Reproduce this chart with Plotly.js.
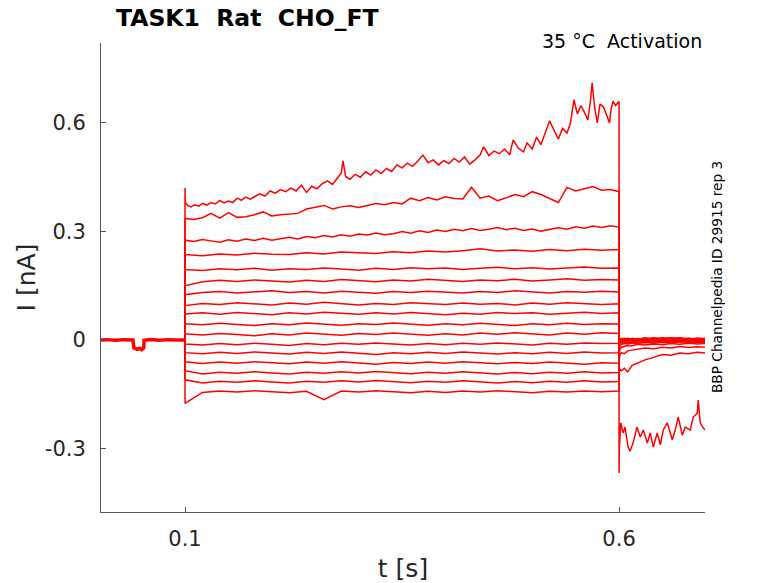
<!DOCTYPE html>
<html>
<head>
<meta charset="utf-8">
<script src="https://cdn.plot.ly/plotly-3.0.1.min.js"></script>
<style>
  body { margin: 0; background: #fff; }
  #graph { width: 778px; height: 583px; }
</style>
</head>
<body>
<div id="graph"></div>
<script>
// holding current before the voltage step (all sweeps sit on top of each other here)
var tBase = [0.0032, 0.01, 0.02, 0.03, 0.04, 0.0412, 0.045, 0.048, 0.05, 0.0525, 0.0528, 0.06, 0.07, 0.08, 0.09, 0.1];
var iBase = [0, 0.001, -0.001, 0.001, 0, -0.022, -0.026, -0.023, -0.027, -0.022, -0.001, 0.001, -0.001, 0.001, 0, 0];

// time grids used by the sweeps
var tFine = [0.10, 0.11, 0.12, 0.13, 0.14, 0.15, 0.16, 0.17, 0.18, 0.19,
             0.20, 0.21, 0.22, 0.23, 0.24, 0.25, 0.26, 0.27, 0.28, 0.29,
             0.30, 0.31, 0.32, 0.33, 0.34, 0.35, 0.36, 0.37, 0.38, 0.39,
             0.40, 0.41, 0.42, 0.43, 0.44, 0.45, 0.46, 0.47, 0.48, 0.49,
             0.50, 0.51, 0.52, 0.53, 0.54, 0.55, 0.56, 0.57, 0.58, 0.59,
             0.60];
var tCoarse = [0.10, 0.12, 0.14, 0.16, 0.18, 0.20, 0.22, 0.24, 0.26, 0.28,
               0.30, 0.32, 0.34, 0.36, 0.38, 0.40, 0.42, 0.44, 0.46, 0.48,
               0.50, 0.52, 0.54, 0.56, 0.58, 0.60];
var tTail = [0.6, 0.601, 0.603, 0.606, 0.61, 0.615, 0.622, 0.63, 0.64, 0.65, 0.66, 0.67, 0.68, 0.69, 0.699];

// sweep 1 (largest step) has its own sampling
var t1 = [0.1, 0.1003, 0.103, 0.107, 0.111, 0.116, 0.120, 0.125, 0.130, 0.135,
          0.140, 0.145, 0.150, 0.155, 0.160, 0.165, 0.170, 0.175, 0.180, 0.186,
          0.192, 0.198, 0.204, 0.210, 0.216, 0.222, 0.228, 0.234, 0.240, 0.246,
          0.252, 0.258, 0.264, 0.270, 0.276, 0.280, 0.282, 0.285, 0.290, 0.296,
          0.302, 0.308, 0.314, 0.320, 0.326, 0.332, 0.338, 0.344, 0.350, 0.356,
          0.362, 0.368, 0.374, 0.380, 0.386, 0.392, 0.398, 0.404, 0.410, 0.416,
          0.422, 0.428, 0.434, 0.440, 0.444, 0.450, 0.456, 0.462, 0.468, 0.474,
          0.478, 0.484, 0.490, 0.494, 0.500, 0.505, 0.510, 0.515, 0.520, 0.525,
          0.530, 0.535, 0.540, 0.544, 0.548, 0.552, 0.556, 0.560, 0.564, 0.567,
          0.569, 0.572, 0.575, 0.578, 0.582, 0.586, 0.589, 0.591, 0.593, 0.596,
          0.598, 0.600];
var i1 = [0.420, 0.380, 0.372, 0.368, 0.374, 0.370, 0.378, 0.373, 0.380, 0.376,
          0.386, 0.379, 0.384, 0.380, 0.392, 0.386, 0.395, 0.389, 0.396, 0.404,
          0.398, 0.412, 0.406, 0.416, 0.410, 0.420, 0.412, 0.428, 0.408, 0.425,
          0.418, 0.432, 0.440, 0.430, 0.449, 0.462, 0.495, 0.452, 0.444, 0.458,
          0.450, 0.465, 0.456, 0.470, 0.460, 0.474, 0.466, 0.484, 0.476, 0.489,
          0.480, 0.494, 0.511, 0.490, 0.498, 0.484, 0.496, 0.488, 0.502, 0.492,
          0.506, 0.486, 0.498, 0.512, 0.534, 0.510, 0.522, 0.515, 0.528, 0.512,
          0.553, 0.530, 0.520, 0.545, 0.528, 0.561, 0.540, 0.575, 0.606, 0.580,
          0.556, 0.585, 0.572, 0.600, 0.664, 0.625, 0.648, 0.630, 0.608, 0.660,
          0.711, 0.640, 0.600, 0.652, 0.644, 0.620, 0.600, 0.640, 0.660, 0.648,
          0.655, 0.660];
var t1Tail = [0.6, 0.6003, 0.6020, 0.6046, 0.6069, 0.6104, 0.6127, 0.6161, 0.6207, 0.6244,
              0.6279, 0.6325, 0.6359, 0.6394, 0.6440, 0.6475, 0.6509, 0.6555, 0.6613, 0.6647,
              0.6682, 0.6728, 0.6762, 0.6820, 0.6855, 0.6901, 0.6912, 0.6935, 0.6970, 0.6990];
var i1Tail = [-0.368, -0.300, -0.229, -0.257, -0.241, -0.296, -0.307, -0.285, -0.241, -0.268,
              -0.249, -0.285, -0.257, -0.296, -0.257, -0.290, -0.249, -0.229, -0.276, -0.249,
              -0.213, -0.263, -0.241, -0.249, -0.213, -0.202, -0.166, -0.229, -0.243, -0.249];

// sweeps 2 and 3 on tFine
var i2 = [0.336, 0.333, 0.338, 0.350, 0.337, 0.352, 0.339, 0.341, 0.346, 0.354,
          0.343, 0.346, 0.349, 0.350, 0.362, 0.366, 0.372, 0.362, 0.368, 0.371,
          0.366, 0.372, 0.377, 0.374, 0.380, 0.376, 0.392, 0.385, 0.394, 0.387,
          0.396, 0.391, 0.390, 0.422, 0.392, 0.398, 0.385, 0.393, 0.402, 0.396,
          0.410, 0.402, 0.392, 0.380, 0.422, 0.412, 0.418, 0.424, 0.414, 0.416,
          0.410];
var i3 = [0.276, 0.272, 0.278, 0.274, 0.270, 0.277, 0.273, 0.279, 0.275, 0.281,
          0.276, 0.280, 0.284, 0.279, 0.286, 0.283, 0.289, 0.285, 0.291, 0.287,
          0.293, 0.290, 0.296, 0.291, 0.294, 0.300, 0.295, 0.302, 0.297, 0.304,
          0.300, 0.306, 0.302, 0.308, 0.303, 0.306, 0.311, 0.305, 0.309, 0.303,
          0.307, 0.301, 0.305, 0.310, 0.306, 0.313, 0.309, 0.315, 0.311, 0.316,
          0.312];

// sweeps 4..17 on tCoarse
var i4  = [0.236, 0.233, 0.238, 0.235, 0.240, 0.237, 0.236, 0.241, 0.238, 0.243, 0.240, 0.239, 0.244, 0.241, 0.246, 0.243, 0.247, 0.252, 0.246, 0.249, 0.245, 0.250, 0.247, 0.251, 0.248, 0.250];
var i5  = [0.195, 0.192, 0.197, 0.194, 0.198, 0.193, 0.197, 0.195, 0.199, 0.196, 0.193, 0.198, 0.195, 0.200, 0.197, 0.199, 0.195, 0.198, 0.201, 0.197, 0.200, 0.196, 0.199, 0.202, 0.198, 0.199];
var i6  = [0.150, 0.161, 0.165, 0.162, 0.166, 0.163, 0.160, 0.165, 0.162, 0.167, 0.164, 0.161, 0.166, 0.163, 0.168, 0.165, 0.162, 0.166, 0.164, 0.168, 0.163, 0.166, 0.169, 0.165, 0.167, 0.166];
var i7  = [0.125, 0.131, 0.134, 0.130, 0.133, 0.136, 0.131, 0.134, 0.130, 0.135, 0.132, 0.129, 0.134, 0.131, 0.135, 0.132, 0.130, 0.134, 0.131, 0.136, 0.133, 0.130, 0.134, 0.132, 0.135, 0.133];
var i8  = [0.095, 0.101, 0.098, 0.103, 0.100, 0.097, 0.102, 0.099, 0.104, 0.100, 0.097, 0.101, 0.098, 0.103, 0.100, 0.098, 0.102, 0.099, 0.101, 0.097, 0.102, 0.099, 0.103, 0.100, 0.098, 0.100];
var i9  = [0.072, 0.075, 0.071, 0.076, 0.073, 0.070, 0.075, 0.072, 0.077, 0.074, 0.071, 0.075, 0.072, 0.076, 0.073, 0.070, 0.074, 0.071, 0.076, 0.073, 0.075, 0.071, 0.074, 0.077, 0.073, 0.075];
var i10 = [0.045, 0.042, 0.046, 0.043, 0.040, 0.045, 0.042, 0.047, 0.044, 0.041, 0.045, 0.043, 0.047, 0.044, 0.041, 0.045, 0.042, 0.046, 0.043, 0.040, 0.045, 0.042, 0.046, 0.043, 0.045, 0.044];
var i11 = [0.017, 0.014, 0.018, 0.015, 0.012, 0.017, 0.014, 0.019, 0.016, 0.013, 0.018, 0.015, 0.019, 0.016, 0.013, 0.017, 0.014, 0.019, 0.016, 0.020, 0.017, 0.014, 0.019, 0.016, 0.020, 0.018];
var i12 = [-0.011, -0.014, -0.010, -0.013, -0.009, -0.012, -0.015, -0.010, -0.013, -0.009, -0.012, -0.008, -0.011, -0.014, -0.010, -0.013, -0.009, -0.012, -0.008, -0.011, -0.014, -0.009, -0.012, -0.008, -0.010, -0.009];
var i13 = [-0.035, -0.038, -0.034, -0.037, -0.033, -0.036, -0.039, -0.034, -0.037, -0.033, -0.036, -0.040, -0.035, -0.038, -0.034, -0.037, -0.033, -0.036, -0.039, -0.035, -0.038, -0.034, -0.037, -0.033, -0.036, -0.035];
var i14 = [-0.060, -0.065, -0.061, -0.064, -0.060, -0.063, -0.066, -0.061, -0.064, -0.060, -0.063, -0.067, -0.062, -0.065, -0.061, -0.064, -0.060, -0.063, -0.066, -0.062, -0.065, -0.061, -0.064, -0.067, -0.063, -0.064];
var i15 = [-0.085, -0.094, -0.089, -0.092, -0.088, -0.091, -0.094, -0.089, -0.092, -0.088, -0.091, -0.087, -0.090, -0.093, -0.089, -0.092, -0.088, -0.091, -0.094, -0.090, -0.093, -0.089, -0.092, -0.088, -0.091, -0.090];
var i16 = [-0.110, -0.119, -0.114, -0.117, -0.113, -0.116, -0.119, -0.114, -0.117, -0.113, -0.116, -0.112, -0.115, -0.118, -0.114, -0.117, -0.113, -0.116, -0.119, -0.115, -0.118, -0.114, -0.117, -0.113, -0.116, -0.115];
var i17 = [-0.175, -0.145, -0.141, -0.144, -0.140, -0.143, -0.146, -0.142, -0.165, -0.141, -0.144, -0.140, -0.143, -0.146, -0.142, -0.145, -0.141, -0.144, -0.140, -0.143, -0.146, -0.142, -0.144, -0.141, -0.143, -0.141];

// tail currents after repolarisation (on tTail)
var tail2  = [-0.100, -0.080, -0.085, -0.078, -0.088, -0.070, -0.062, -0.055, -0.048, -0.040, -0.042, -0.036, -0.038, -0.034, -0.036];
var tail3  = [-0.060, -0.040, -0.035, -0.038, -0.030, -0.028, -0.025, -0.022, -0.024, -0.020, -0.022, -0.018, -0.021, -0.019, -0.020];
var tail4  = [-0.040, -0.025, -0.020, -0.018, -0.015, -0.016, -0.012, -0.014, -0.011, -0.013, -0.010, -0.012, -0.009, -0.011, -0.010];
var tail5  = [-0.030, -0.015, -0.012, -0.010, -0.011, -0.008, -0.010, -0.007, -0.009, -0.006, -0.008, -0.005, -0.007, -0.006, -0.007];
var tail6  = [-0.020, -0.010, -0.008, -0.009, -0.006, -0.008, -0.005, -0.007, -0.004, -0.006, -0.003, -0.005, -0.004, -0.006, -0.005];
var tail7  = [-0.015, -0.008, -0.006, -0.004, -0.007, -0.005, -0.003, -0.006, -0.004, -0.002, -0.005, -0.003, -0.001, -0.004, -0.003];
var tail8  = [-0.010, -0.005, -0.003, -0.005, -0.002, -0.004, -0.001, -0.003, -0.005, -0.002, -0.004, -0.001, -0.003, -0.002, -0.003];
var tail9  = [-0.008, -0.003, -0.001, -0.004, -0.002, 0.000, -0.003, -0.001, -0.004, -0.002, 0.001, -0.002, -0.004, -0.001, -0.002];
var tail10 = [-0.005, -0.002, 0.001, -0.002, 0.000, -0.003, 0.000, 0.002, -0.001, -0.003, 0.000, 0.002, -0.001, 0.001, 0.000];
var tail11 = [-0.004, 0.000, 0.002, -0.001, 0.001, -0.002, 0.001, 0.003, 0.000, -0.002, 0.001, 0.003, 0.000, 0.002, 0.001];
var tail12 = [-0.004, 0.002, 0.004, 0.001, 0.003, 0.000, 0.003, 0.005, 0.002, 0.000, 0.003, 0.005, 0.002, 0.004, 0.002];
var tail13 = [-0.008, 0.001, 0.004, 0.002, 0.005, 0.002, 0.004, 0.001, 0.004, 0.006, 0.003, 0.001, 0.004, 0.002, 0.003];
var tail14 = [-0.012, 0.000, 0.003, 0.005, 0.002, 0.004, 0.001, 0.004, 0.006, 0.003, 0.005, 0.002, 0.004, 0.001, 0.003];
var tail15 = [-0.020, -0.002, 0.002, 0.000, 0.004, 0.001, 0.003, 0.005, 0.002, 0.004, 0.001, 0.003, 0.005, 0.002, 0.004];
var tail16 = [-0.030, -0.004, 0.001, 0.003, 0.000, 0.004, 0.002, 0.005, 0.002, 0.004, 0.006, 0.003, 0.001, 0.004, 0.003];
var tail17 = [-0.040, -0.006, 0.000, 0.003, 0.001, 0.004, 0.002, 0.005, 0.003, 0.001, 0.004, 0.006, 0.003, 0.005, 0.004];

var xTicks = [0.1, 0.6];
var xTickText = ['0.1', '0.6'];
var yTicks = [-0.3, 0, 0.3, 0.6];
var yTickText = ['-0.3', '0', '0.3', '0.6'];

var red = '#ff0000';
var data = [];

// pre-pulse part drawn once, a bit thicker since 17 noisy sweeps overlap there
data.push({type: 'scatter', mode: 'lines', x: tBase, y: iBase,
  line: {color: red, width: 3.5}, hoverinfo: 'none'});

function addSweep(tS, iS, tT, iT) {
  var t0 = tBase[tBase.length - 1], v0 = iBase[iBase.length - 1];
  data.push({
    type: 'scatter', mode: 'lines',
    x: [t0].concat(tS, tT),
    y: [v0].concat(iS, iT),
    line: {color: red, width: 1.5}
  });
}

addSweep(t1, i1, t1Tail, i1Tail);
addSweep(tFine, i2, tTail, tail2);
addSweep(tFine, i3, tTail, tail3);
addSweep(tCoarse, i4, tTail, tail4);
addSweep(tCoarse, i5, tTail, tail5);
addSweep(tCoarse, i6, tTail, tail6);
addSweep(tCoarse, i7, tTail, tail7);
addSweep(tCoarse, i8, tTail, tail8);
addSweep(tCoarse, i9, tTail, tail9);
addSweep(tCoarse, i10, tTail, tail10);
addSweep(tCoarse, i11, tTail, tail11);
addSweep(tCoarse, i12, tTail, tail12);
addSweep(tCoarse, i13, tTail, tail13);
addSweep(tCoarse, i14, tTail, tail14);
addSweep(tCoarse, i15, tTail, tail15);
addSweep(tCoarse, i16, tTail, tail16);
addSweep(tCoarse, i17, tTail, tail17);

var font = 'DejaVu Sans, sans-serif';
var layout = {
  width: 778, height: 583,
  margin: {l: 101, r: 73, t: 43, b: 71},
  paper_bgcolor: '#fff', plot_bgcolor: '#fff',
  showlegend: false,
  font: {family: font, color: '#262626'},
  xaxis: {
    range: [0.0032, 0.699],
    tickvals: xTicks, ticktext: xTickText,
    ticks: 'inside', ticklen: 5, tickcolor: '#555', tickwidth: 1,
    showline: true, linecolor: '#555', linewidth: 1,
    showgrid: false, zeroline: false,
    tickfont: {size: 21, color: '#262626'},
    ticklabelstandoff: 8,
    title: {text: 't [s]', font: {size: 25, color: '#262626'}, standoff: 10}
  },
  yaxis: {
    range: [-0.4755, 0.821],
    tickvals: yTicks, ticktext: yTickText,
    ticks: 'inside', ticklen: 5, tickcolor: '#555', tickwidth: 1,
    showline: true, linecolor: '#555', linewidth: 1,
    showgrid: false, zeroline: false,
    tickfont: {size: 21, color: '#262626'},
    ticklabelstandoff: 10,
    title: {text: 'I [nA]', font: {size: 25, color: '#262626'}, standoff: 2}
  },
  annotations: [
    {text: '<b>TASK1\u00a0\u00a0Rat\u00a0\u00a0CHO_FT</b>', xref: 'paper', yref: 'paper',
     x: 0.0215, y: 1.053, xanchor: 'left', yanchor: 'middle', showarrow: false,
     font: {size: 23.5, color: '#000'}},
    {text: '35 \u00b0C\u00a0\u00a0Activation', xref: 'paper', yref: 'paper',
     x: 0.998, y: 1.004, xanchor: 'right', yanchor: 'middle', showarrow: false,
     font: {size: 19, color: '#000'}},
    {text: 'BBP Channelpedia ID 29915 rep 3', xref: 'paper', yref: 'paper',
     x: 1.0199, y: 0.501, xanchor: 'center', yanchor: 'middle', textangle: -90,
     showarrow: false, font: {size: 13.7, color: '#000'}}
  ]
};

Plotly.newPlot('graph', data, layout, {staticPlot: true});
</script>
</body>
</html>
